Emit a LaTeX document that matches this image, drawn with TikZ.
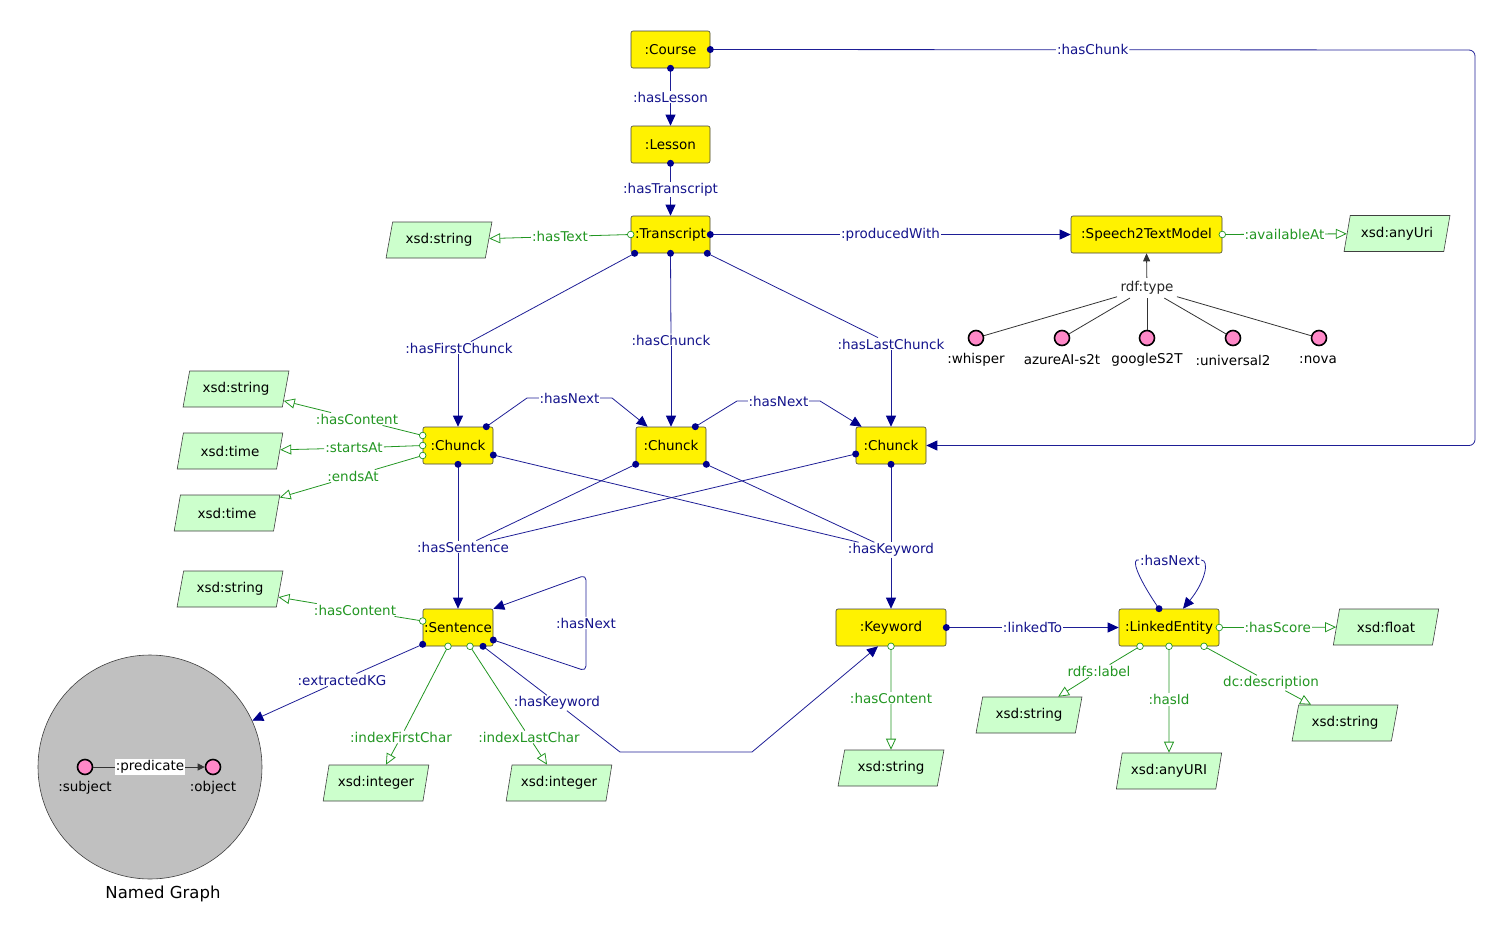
\documentclass[tikz,border=0pt]{standalone}
\usepackage{fontspec}
\setmainfont{DejaVu Sans}
\usetikzlibrary{arrows.meta,shapes.geometric,calc}
\definecolor{navyc}{RGB}{0,0,140}
\definecolor{objc}{RGB}{30,30,150}
\definecolor{grn}{RGB}{34,150,34}
\definecolor{litf}{RGB}{204,255,204}
\definecolor{pinkf}{RGB}{255,136,200}
\definecolor{ngf}{RGB}{192,192,192}
\definecolor{lbltxt}{RGB}{20,20,140}
\newcommand\sdot[1]{\fill[navyc] (#1) circle (3.5pt);}
\newcommand\odt[1]{\draw[grn, fill=white, line width=0.7pt] (#1) circle (3.3pt);}
\begin{document}
\begin{tikzpicture}[x=1pt,y=-1pt,
  every node/.style={font=\fontsize{13.5}{15}\selectfont},
  cls/.style={draw=black!75, fill=yellow, rounded corners=2pt, minimum height=37pt, inner sep=1pt, line width=0.6pt},
  lit/.style={trapezium, trapezium left angle=72, trapezium right angle=108, trapezium stretches=true, draw=black!75, fill=litf, minimum width=106pt, minimum height=36pt, inner sep=1pt, line width=0.6pt},
  ind/.style={circle, draw=black, fill=pinkf, line width=1.6pt, minimum size=15pt, inner sep=0pt},
  olbl/.style={fill=white, inner sep=1pt, text=lbltxt},
  dlbl/.style={fill=white, inner sep=1pt, text=grn},
  obj/.style={draw=objc, line width=0.8pt},
  objA/.style={obj, -{Triangle[length=11pt,width=10pt,color=navyc]}},
  dat/.style={draw=grn, line width=0.8pt},
  datA/.style={dat, -{Triangle[open,length=11pt,width=10pt]}},
  typ/.style={draw=black!80, line width=0.8pt},
]
\useasboundingbox (0,0) rectangle (1505,935);

% ---------- classes ----------
\node[cls, minimum width=79pt] (co) at (670.5,49.5) {:Course};
\node[cls, minimum width=79pt] (le) at (670.5,144.5) {:Lesson};
\node[cls, minimum width=79pt] (tr) at (670.5,234.5) {:Transcript};
\node[cls, minimum width=151pt] (s2t) at (1146.5,234.5) {:Speech2TextModel};
\node[cls, minimum width=70pt] (ch1) at (458,445.5) {:Chunck};
\node[cls, minimum width=70pt] (ch2) at (671,445.5) {:Chunck};
\node[cls, minimum width=70pt] (ch3) at (891,445.5) {:Chunck};
\node[cls, minimum width=70pt] (se) at (458,627.5) {:Sentence};
\node[cls, minimum width=110pt] (kw) at (891,627.5) {:Keyword};
\node[cls, minimum width=100pt] (len) at (1169,627.5) {:LinkedEntity};

% ---------- literals ----------
\node[lit] (lau) at (1397,233.5) {xsd:anyUri};
\node[lit] (lst) at (439,240) {xsd:string};
\node[lit] (lcs) at (236,389) {xsd:string};
\node[lit] (lsa) at (230,451) {xsd:time};
\node[lit] (lea) at (227,513) {xsd:time};
\node[lit] (ls4) at (230,589) {xsd:string};
\node[lit] (li1) at (376,783) {xsd:integer};
\node[lit] (li2) at (559,783) {xsd:integer};
\node[lit] (ls5) at (891,768) {xsd:string};
\node[lit] (ls6) at (1029,715) {xsd:string};
\node[lit] (au2) at (1169,771) {xsd:anyURI};
\node[lit] (ls7) at (1345,723) {xsd:string};
\node[lit] (lfl) at (1386,627) {xsd:float};

% ---------- individuals ----------
\node[text=black!85] (rt) at (1147,288) {rdf:type};
\node[ind] (w) at (976,338) {};
\node[ind] (az) at (1062,338) {};
\node[ind] (gs) at (1147,338) {};
\node[ind] (un) at (1233,338) {};
\node[ind] (nv) at (1319,338) {};
\node (wl) at (976,360) {:whisper};
\node (azl) at (1062,360) {azureAI-s2t};
\node (gsl) at (1147,360) {googleS2T};
\node (unl) at (1233,360) {:universal2};
\node (nvl) at (1318,360) {:nova};
\draw[typ, -{Triangle[length=8pt,width=7pt]}] (rt) -- (s2t.south);
\draw[typ] (rt) -- (w);
\draw[typ] (rt) -- (az);
\draw[typ] (rt) -- (gs);
\draw[typ] (rt) -- (un);
\draw[typ] (rt) -- (nv);

% ---------- named graph ----------
\node[circle, draw=black!75, fill=ngf, minimum size=224pt, line width=0.6pt] (ng) at (150,767) {};
\node[ind] (sub) at (85,767) {};
\node[ind] (ob) at (213,767) {};
\node[fill=white, inner sep=1pt] (pred) at (150,767) {:predicate};
\node (subl) at (85,788) {:subject};
\node (obl) at (213,788) {:object};
\node[font=\fontsize{16.5}{19}\selectfont] (ngl) at (163,894) {Named Graph};
\draw[typ] (sub) -- (pred);
\draw[typ, -{Triangle[length=7pt,width=7pt]}] (pred) -- (ob);

% ---------- object properties top ----------
\draw[objA] (co.south) -- node[olbl]{:hasLesson} (le.north);
\draw[objA] (le.south) -- node[olbl]{:hasTranscript} (tr.north);
\draw[objA] (tr.east) -- node[olbl]{:producedWith} (s2t.west);
\coordinate (hcc) at (1475,50);
\draw[objA, rounded corners=6pt] (co.east) -- node[olbl]{:hasChunk} (hcc) |- (ch3.east);

\node[olbl] (hfc) at (459,348) {:hasFirstChunck};
\node[olbl] (hch) at (671,340) {:hasChunck};
\node[olbl] (hlc) at (891,344) {:hasLastChunck};
\draw[obj] ([xshift=4pt]tr.south west) -- (hfc);
\draw[objA] (hfc.south -| ch1.north) -- (ch1.north);
\draw[obj] (tr.south) -- (hch);
\draw[objA] (hch) -- (ch2.north);
\draw[obj] ([xshift=-3pt]tr.south east) -- (hlc);
\draw[objA] (hlc) -- (ch3.north);

\coordinate (hn1a) at (527,398);
\coordinate (hn1b) at (612,398);
\coordinate (hn2a) at (737,401);
\coordinate (hn2b) at (820,401);
\draw[objA] ([xshift=-7pt]ch1.north east) -- (hn1a) -- node[olbl]{:hasNext} (hn1b) -- ([xshift=12pt]ch2.north west);
\draw[objA] ([xshift=-11pt]ch2.north east) -- (hn2a) -- node[olbl]{:hasNext} (hn2b) -- ([xshift=6pt]ch3.north west);

% ---------- chunk -> sentence / keyword ----------
\node[olbl] (hs) at (463,547) {:hasSentence};
\node[olbl] (hk) at (891,550) {:hasKeyword};
\draw[obj] (ch1.south) -- (ch1.south |- hs.north);
\draw[obj] (ch2.south west) -- (hs);
\draw[obj] ([yshift=-8.5pt]ch3.west) -- (hs);
\draw[objA] (se.north |- hs.south) -- (se.north);
\draw[obj] ([yshift=-9.5pt]ch1.east) -- (hk);
\draw[obj] (ch2.south east) -- (hk);
\draw[obj] (ch3.south) -- (hk);
\draw[objA] (hk) -- (kw.north);

% ---------- sentence ----------
\coordinate (snl1) at (586,671);
\coordinate (snl2) at (586,575);
\draw[objA, rounded corners=5pt] ([yshift=-12.5pt]se.east) -- (snl1) -- node[olbl]{:hasNext} (snl2) -- (se.north east);
\node[olbl] (ekg) at (342,680) {:extractedKG};
\draw[obj] ([yshift=2pt]se.south west) -- (ekg);
\draw[objA] (ekg) -- (ng);
\node[olbl] (shk) at (557,703) {:hasKeyword};
\coordinate (sk1) at (620,752);
\coordinate (sk2) at (752,752);
\draw[obj] ([xshift=25pt]se.south) -- (shk);
\draw[objA] (shk) -- (sk1) -- (sk2) -- ([xshift=-13pt]kw.south);

% ---------- keyword / linked entity ----------
\draw[objA] (kw.east) -- node[olbl]{:linkedTo} (len.west);
\node[olbl] (lhn) at (1170,560) {:hasNext};
\draw[obj] ([xshift=-10pt]len.north) .. controls (1136,575) and (1131,558) .. (lhn.west);
\draw[objA] (lhn.east) .. controls (1210,560) and (1205,582) .. ([xshift=14pt]len.north);

% ---------- data properties ----------
\draw[datA] (tr.west) -- node[dlbl]{:hasText} (lst);
\draw[datA] (s2t.east) -- node[dlbl]{:availableAt} (lau);

\node[dlbl] (hc1) at (357,419) {:hasContent};
\node[dlbl] (hsa) at (354,448) {:startsAt};
\node[dlbl] (hea) at (353,476) {:endsAt};
\draw[dat] ([yshift=10pt]ch1.west) -- (hc1);
\draw[datA] (hc1) -- (lcs);
\draw[dat] (ch1.west) -- (hsa);
\draw[datA] (hsa) -- (lsa);
\draw[dat] ([yshift=-10pt]ch1.west) -- (hea);
\draw[datA] (hea) -- (lea);

\node[dlbl] (hc2) at (355,610) {:hasContent};
\draw[dat] ([yshift=6.5pt]se.west) -- (hc2);
\draw[datA] (hc2) -- (ls4);
\node[dlbl] (ifc) at (401,737) {:indexFirstChar};
\node[dlbl] (ilc) at (529,737) {:indexLastChar};
\draw[dat] ([xshift=-10pt]se.south) -- (ifc);
\draw[datA] (ifc) -- (li1);
\draw[dat] ([xshift=12pt]se.south) -- (ilc);
\draw[datA] (ilc) -- (li2);

\draw[datA] (kw.south) -- node[dlbl]{:hasContent} (ls5.north);
\draw[datA] (len.east) -- node[dlbl]{:hasScore} (lfl);
\node[dlbl] (rl) at (1099,671) {rdfs:label};
\draw[dat] ([xshift=-29pt]len.south) -- (rl);
\draw[datA] (rl) -- (ls6);
\draw[datA] (len.south) -- node[dlbl]{:hasId} (au2.north);
\node[dlbl] (dcd) at (1271,683) {dc:description};
\draw[dat] ([xshift=35pt]len.south) -- (dcd);
\draw[datA] (dcd) -- (ls7);

% ---------- dots ----------
\sdot{co.south} \sdot{co.east} \sdot{le.south} \sdot{tr.east}
\sdot{[xshift=4pt]tr.south west} \sdot{tr.south} \sdot{[xshift=-3pt]tr.south east}
\odt{tr.west} \odt{s2t.east}
\sdot{[xshift=-7pt]ch1.north east} \sdot{[xshift=-11pt]ch2.north east}
\odt{[yshift=10pt]ch1.west} \odt{ch1.west} \odt{[yshift=-10pt]ch1.west}
\sdot{ch1.south} \sdot{[yshift=-9.5pt]ch1.east} \sdot{ch2.south west} \sdot{ch2.south east}
\sdot{[yshift=-8.5pt]ch3.west} \sdot{ch3.south}
\sdot{[yshift=-12.5pt]se.east} \odt{[yshift=6.5pt]se.west} \sdot{[yshift=2pt]se.south west}
\odt{[xshift=-10pt]se.south} \odt{[xshift=12pt]se.south} \sdot{[xshift=25pt]se.south}
\sdot{kw.east} \odt{kw.south}
\odt{len.east} \odt{[xshift=-29pt]len.south} \odt{len.south} \odt{[xshift=35pt]len.south}
\sdot{[xshift=-10pt]len.north}
\end{tikzpicture}
\end{document}
